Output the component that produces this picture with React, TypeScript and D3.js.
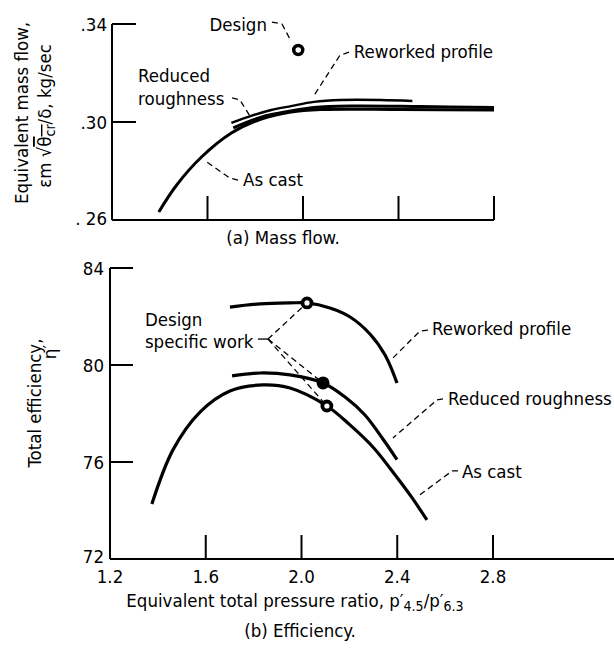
import React from "react";
import * as d3 from "d3";

// ---- data ----
// (a) mass flow, kg/sec vs pressure ratio
const massAsCast: [number, number][] = [
  [1.396, 0.2633], [1.471, 0.2743], [1.575, 0.2857], [1.7, 0.2955], [1.825, 0.3012],
  [1.95, 0.3041], [2.075, 0.3051], [2.408, 0.3051], [2.8, 0.3049],
];
const massReduced: [number, number][] = [
  [1.708, 0.2976], [1.825, 0.302], [1.95, 0.3045], [2.046, 0.3059], [2.2, 0.3065],
  [2.492, 0.3063], [2.8, 0.3059],
];
const massReworked: [number, number][] = [
  [1.7, 0.2996], [1.783, 0.3025], [1.867, 0.3049], [1.95, 0.3065], [2.046, 0.3082],
  [2.158, 0.309], [2.325, 0.309], [2.458, 0.3086],
];
const massDesign: [number, number] = [1.98, 0.3294];

// (b) efficiency, percent
const effAsCast: [number, number][] = [
  [1.375, 74.27], [1.463, 76.5], [1.576, 78.06], [1.701, 78.93], [1.839, 79.18],
  [1.952, 79.05], [2.106, 78.31], [2.2, 77.55], [2.3, 76.6], [2.4, 75.35],
  [2.46, 74.55], [2.524, 73.61],
];
const effReduced: [number, number][] = [
  [1.71, 79.55], [1.827, 79.67], [1.952, 79.59], [2.09, 79.26], [2.182, 78.68],
  [2.265, 77.94], [2.34, 76.95], [2.399, 76.1],
];
const effReworked: [number, number][] = [
  [1.701, 82.39], [1.827, 82.52], [1.952, 82.56], [2.023, 82.56], [2.119, 82.35],
  [2.203, 81.98], [2.286, 81.28], [2.349, 80.41], [2.399, 79.26],
];
// design specific work points: [x, y, filled]
const effDesign: [number, number, boolean][] = [
  [2.023, 82.56, false],
  [2.09, 79.26, true],
  [2.106, 78.31, false],
];

const xTicks = [1.2, 1.6, 2.0, 2.4, 2.8];
const xTickLabels = ["1.2", "1.6", "2.0", "2.4", "2.8"];
const massTicks = [0.26, 0.3, 0.34];
const massTickLabels = [". 26", ".30", ".34"];
const effTicks = [72, 76, 80, 84];

type Note = { lines: string[]; x: number; y: number; leader: [number, number][] };

const massNotes: Note[] = [
  { lines: ["Design"], x: 1.849, y: 0.3371, leader: [[1.87, 0.3408], [1.912, 0.34], [1.95, 0.333]] },
  { lines: ["Reworked profile"], x: 2.213, y: 0.3261, leader: [[2.193, 0.3285], [2.155, 0.3273], [2.042, 0.3102]] },
  { lines: ["Reduced", "roughness"], x: 1.309, y: 0.3163, leader: [[1.703, 0.3098], [1.736, 0.309], [1.778, 0.3024]] },
  { lines: ["As cast"], x: 1.749, y: 0.2739, leader: [[1.728, 0.2763], [1.694, 0.2771], [1.585, 0.2845]] },
];

const effNotes: Note[] = [
  { lines: ["Reworked profile"], x: 2.545, y: 81.24, leader: [[2.528, 81.44], [2.495, 81.4], [2.382, 80.29]] },
  { lines: ["Reduced roughness"], x: 2.612, y: 78.35, leader: [[2.591, 78.6], [2.566, 78.56], [2.382, 76.99]] },
  { lines: ["As cast"], x: 2.67, y: 75.34, leader: [[2.654, 75.63], [2.629, 75.63], [2.483, 74.56]] },
];
const designNote = { x: 1.346, y: 81.61, stub: [[1.818, 81.07], [1.86, 81.07]] as [number, number][] };

const FONT = "'DejaVu Sans Condensed', 'Liberation Sans Narrow', 'DejaVu Sans', sans-serif";

export default function App() {
  // scales
  const xTop = d3.scaleLinear().domain([1.2, 2.8]).range([112, 494]);
  const yTop = d3.scaleLinear().domain([0.26, 0.34]).range([220, 24]);
  const xBot = d3.scaleLinear().domain([1.2, 2.8]).range([110, 493]);
  const yBot = d3.scaleLinear().domain([72, 84]).range([559, 268]);

  const lineTop = d3
    .line<[number, number]>()
    .x((d) => xTop(d[0]))
    .y((d) => yTop(d[1]))
    .curve(d3.curveCatmullRom.alpha(0.5));
  const lineBot = d3
    .line<[number, number]>()
    .x((d) => xBot(d[0]))
    .y((d) => yBot(d[1]))
    .curve(d3.curveCatmullRom.alpha(0.5));
  const leaderTop = d3.line<[number, number]>().x((d) => xTop(d[0])).y((d) => yTop(d[1]));
  const leaderBot = d3.line<[number, number]>().x((d) => xBot(d[0])).y((d) => yBot(d[1]));

  const dash = { fill: "none", stroke: "#000", strokeWidth: 1.3, strokeDasharray: "6,4" };
  const txt = { fontFamily: FONT, fontSize: 18.5, fill: "#000" };

  const branch: [number, number] = designNote.stub[1];

  return (
    <svg width={614} height={655} style={{ position: "absolute", left: 0, top: 0, background: "#fff" }}>
      {/* ---------- (a) Mass flow ---------- */}
      <g>
        <line x1={xTop(1.2)} x2={xTop(1.2)} y1={yTop(0.34)} y2={yTop(0.26)} stroke="#000" strokeWidth={2} />
        <line x1={xTop(1.2)} x2={xTop(2.8)} y1={yTop(0.26)} y2={yTop(0.26)} stroke="#000" strokeWidth={2} />
        {massTicks.map((t, i) => (
          <g key={t}>
            {i > 0 && <line x1={xTop(1.2)} x2={xTop(1.2) + 24} y1={yTop(t)} y2={yTop(t)} stroke="#000" strokeWidth={2} />}
            <text x={xTop(1.2) - 5} y={yTop(t) + (i === 0 ? -2 : 0)} textAnchor="end" dominantBaseline="central" {...txt}>
              {massTickLabels[i]}
            </text>
          </g>
        ))}
        {xTicks.slice(1).map((t) => (
          <line key={t} x1={xTop(t)} x2={xTop(t)} y1={yTop(0.26)} y2={yTop(0.26) - 24} stroke="#000" strokeWidth={2} />
        ))}

        <path d={lineTop(massAsCast) || ""} fill="none" stroke="#000" strokeWidth={3} />
        <path d={lineTop(massReduced) || ""} fill="none" stroke="#000" strokeWidth={3} />
        <path d={lineTop(massReworked) || ""} fill="none" stroke="#000" strokeWidth={2.4} />
        <circle cx={xTop(massDesign[0])} cy={yTop(massDesign[1])} r={4.5} fill="#fff" stroke="#000" strokeWidth={3.5} />

        {massNotes.map((n) => (
          <g key={n.lines[0]}>
            <path d={leaderTop(n.leader) || ""} {...dash} />
            <text x={xTop(n.x)} y={yTop(n.y)} textAnchor={n.lines[0] === "Design" ? "end" : "start"} {...txt}>
              {n.lines.map((l, i) => (
                <tspan key={l} x={xTop(n.x)} dy={i === 0 ? 0 : 23}>
                  {l}
                </tspan>
              ))}
            </text>
          </g>
        ))}

        <text transform="translate(28,113) rotate(-90)" textAnchor="middle" {...txt}>
          Equivalent mass flow,
        </text>
        <text transform="translate(51,116) rotate(-90)" textAnchor="middle" {...txt}>
          εm √<tspan style={{ textDecoration: "overline" }}>θ<tspan fontSize={14} dy={4}>cr</tspan></tspan>
          <tspan dy={-4}>/δ, kg/sec</tspan>
        </text>
        <text x={283} y={244} textAnchor="middle" {...txt}>
          (a) Mass flow.
        </text>
      </g>

      {/* ---------- (b) Efficiency ---------- */}
      <g>
        <line x1={xBot(1.2)} x2={xBot(1.2)} y1={yBot(84)} y2={yBot(72)} stroke="#000" strokeWidth={2} />
        <line x1={xBot(1.2)} x2={614} y1={yBot(72)} y2={yBot(72)} stroke="#000" strokeWidth={2} />
        {effTicks.map((t) => (
          <g key={t}>
            {t > 72 && <line x1={xBot(1.2)} x2={xBot(1.2) + 23} y1={yBot(t)} y2={yBot(t)} stroke="#000" strokeWidth={2} />}
            <text x={xBot(1.2) - 6} y={yBot(t) - (t === 72 ? 3 : 0)} textAnchor="end" dominantBaseline="central" {...txt}>
              {t}
            </text>
          </g>
        ))}
        {xTicks.map((t, i) => (
          <g key={t}>
            {i > 0 && <line x1={xBot(t)} x2={xBot(t)} y1={yBot(72)} y2={yBot(72) - 24} stroke="#000" strokeWidth={2} />}
            <text x={xBot(t)} y={583} textAnchor="middle" {...txt}>
              {xTickLabels[i]}
            </text>
          </g>
        ))}

        <path d={lineBot(effAsCast) || ""} fill="none" stroke="#000" strokeWidth={3.2} />
        <path d={lineBot(effReduced) || ""} fill="none" stroke="#000" strokeWidth={3.2} />
        <path d={lineBot(effReworked) || ""} fill="none" stroke="#000" strokeWidth={3.2} />

        {/* design specific work leaders */}
        <path d={leaderBot(designNote.stub) || ""} fill="none" stroke="#000" strokeWidth={1.3} />
        {effDesign.map((p) => (
          <path key={p[1]} d={leaderBot([branch, [p[0], p[1]]]) || ""} {...dash} />
        ))}
        {effDesign.map((p) =>
          p[2] ? (
            <circle key={p[1]} cx={xBot(p[0])} cy={yBot(p[1])} r={6.5} fill="#000" />
          ) : (
            <circle key={p[1]} cx={xBot(p[0])} cy={yBot(p[1])} r={4.5} fill="#fff" stroke="#000" strokeWidth={3.8} />
          )
        )}
        <text x={xBot(designNote.x)} y={yBot(designNote.y)} {...txt}>
          <tspan x={xBot(designNote.x)}>Design</tspan>
          <tspan x={xBot(designNote.x)} dy={22}>specific work</tspan>
        </text>

        {effNotes.map((n) => (
          <g key={n.lines[0]}>
            <path d={leaderBot(n.leader) || ""} {...dash} />
            <text x={xBot(n.x)} y={yBot(n.y)} {...txt}>
              {n.lines[0]}
            </text>
          </g>
        ))}

        <text transform="translate(41,403) rotate(-90)" textAnchor="middle" {...txt}>
          Total efficiency,
        </text>
        <text transform="translate(56,352) rotate(-90)" textAnchor="middle" {...txt}>
          η′
        </text>
        <text x={295} y={607} textAnchor="middle" {...txt}>
          Equivalent total pressure ratio,{" "}
          <tspan>p′</tspan>
          <tspan fontSize={14} dy={4}>4.5</tspan>
          <tspan dy={-4}>/p′</tspan>
          <tspan fontSize={14} dy={4}>6.3</tspan>
        </text>
        <text x={300} y={637} textAnchor="middle" {...txt}>
          (b) Efficiency.
        </text>
      </g>
    </svg>
  );
}
